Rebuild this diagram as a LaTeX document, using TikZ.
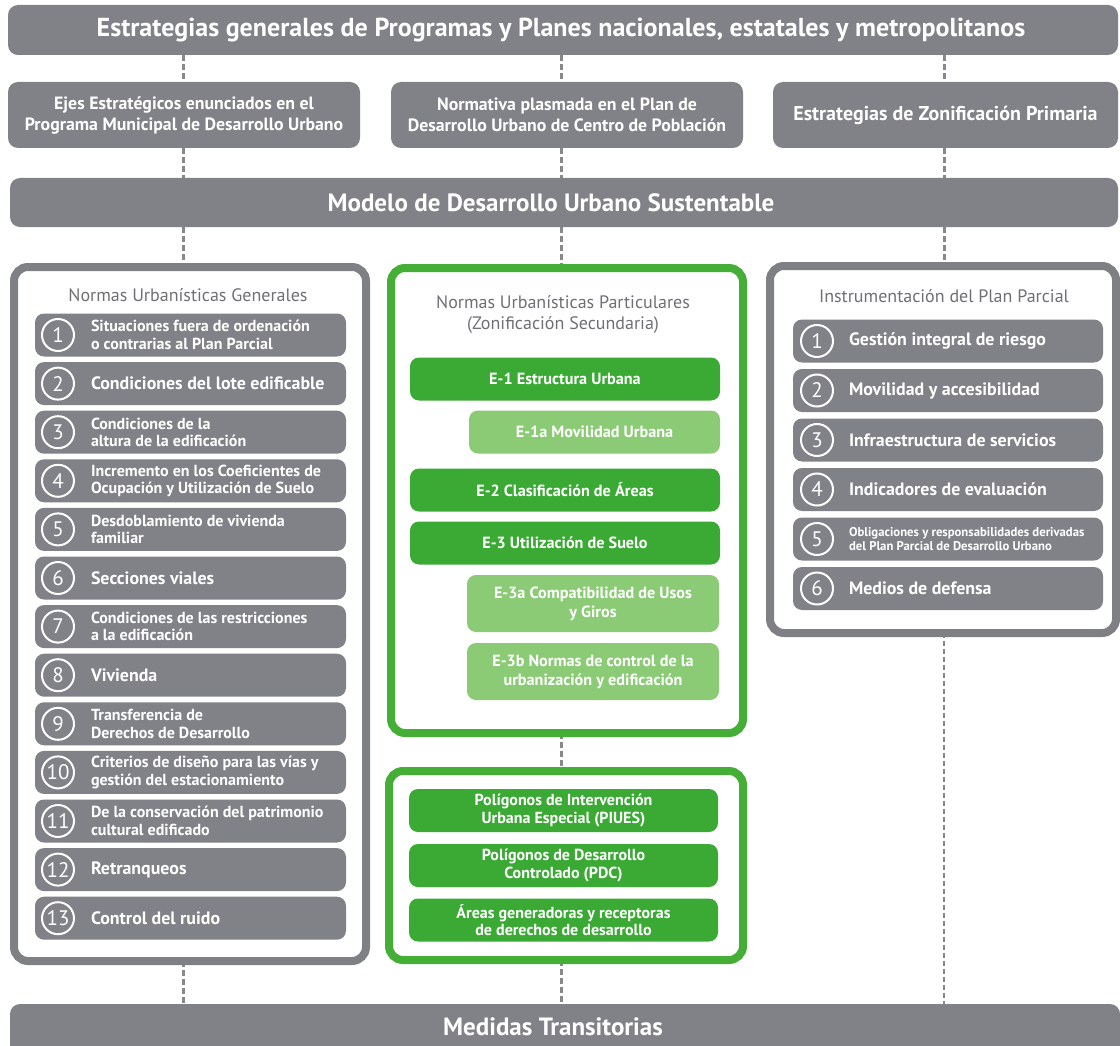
\documentclass[tikz,border=0pt]{standalone}
\usepackage{fontspec}
\setmainfont{PT Sans}
\usetikzlibrary{backgrounds}
\definecolor{gbox}{HTML}{808287}
\definecolor{gframe}{HTML}{7E8084}
\definecolor{gtitle}{HTML}{6E7074}
\definecolor{dgreen}{HTML}{3BAA35}
\definecolor{lgreen}{HTML}{8CCB76}
\definecolor{fgreen}{HTML}{44AE37}
\definecolor{gconn}{HTML}{86888C}
\newcommand{\fs}[2]{\fontsize{#1}{#2}\selectfont}
\tikzset{
  every node/.style={outer sep=0pt, inner sep=0pt},
  bar/.style={fill=gbox, rounded corners=10pt, text=white},
  bartxt/.style={text=white, font=\bfseries\fs{25}{29}},
  rowbox/.style={fill=gbox, rounded corners=10pt, text=white, align=center, minimum width=352pt, minimum height=66pt, font=\bfseries\fs{17.8}{21}},
  frameg/.style={draw=gframe, line width=8pt, fill=white, rounded corners=14pt},
  framegr/.style={draw=fgreen, line width=8pt, fill=white, rounded corners=14pt},
  ftitle/.style={text=gtitle, align=center, font=\fs{18}{21}},
  item/.style={fill=gbox, rounded corners=9pt, minimum height=43pt},
  itxt/.style={text=white, anchor=west, align=left, font=\bfseries\fs{16}{17.5}},
  itxtbig/.style={text=white, anchor=west, align=left, font=\bfseries\fs{17.9}{20}},
  num/.style={circle, draw=white, line width=2pt, minimum size=32pt, text=white, font=\fs{21}{21}},
  dbox/.style={fill=dgreen, rounded corners=9pt, text=white, align=center, font=\bfseries\fs{16.2}{19}},
  lbox/.style={fill=lgreen, rounded corners=9pt, text=white, align=center, font=\bfseries\fs{16.2}{19}},
  conn/.style={draw=gconn, line width=3pt, dash pattern=on 6pt off 3pt},
  connlong/.style={draw=gconn, line width=2.6pt, dash pattern=on 5pt off 3pt}
}
\begin{document}
\begin{tikzpicture}[x=1pt,y=-1pt]
\useasboundingbox (0,0) rectangle (1120,1046);
\coordinate (c1) at (183,0);
\coordinate (c2) at (561,0);
\coordinate (c3) at (944,0);
\coordinate (medtop) at (0,1004);
% top bar
\node[bar, minimum width=1110pt, minimum height=50pt] (top) at (563,30) {};
\node[bartxt, font=\bfseries\fs{26}{30}] (toptxt) at (561,30) {Estrategias generales de Programas y Planes nacionales, estatales y metropolitanos};
% second row
\node[rowbox] (ejes) at (184,115) {Ejes Estratégicos enunciados en el\\Programa Municipal de Desarrollo Urbano};
\node[rowbox] (norm) at (567,115) {Normativa plasmada en el Plan de\\Desarrollo Urbano de Centro de Población};
\node[rowbox, minimum width=345pt, font=\bfseries\fs{20}{23}] (zon) at (945.5,115) {Estrategias de Zonificación Primaria};
% modelo
\node[bar, minimum width=1108pt, minimum height=49pt] (mod) at (564,202.5) {};
\node[bartxt] (modtxt) at (551,202.5) {Modelo de Desarrollo Urbano Sustentable};
% frames
\node[frameg, minimum width=352pt, minimum height=694pt] (lf) at (190,614) {};
\node[framegr, minimum width=352pt, minimum height=465pt] (mf) at (567,500.5) {};
\node[framegr, minimum width=354pt, minimum height=189pt] (gf) at (566,865.5) {};
\node[frameg, minimum width=346pt, minimum height=367pt] (rf) at (943,449.5) {};
% medidas
\path[fill=gbox, rounded corners=10pt] (10,1046) -- (10,1004) -- (1120,1004) [sharp corners] -- (1120,1046) -- cycle;
\node[bartxt] (med) at (553,1027) {Medidas Transitorias};
% titles
\node[ftitle] (lft) at (188,295) {Normas Urbanísticas Generales};
\node[ftitle] (mft) at (563,314) {Normas Urbanísticas Particulares\\(Zonificación Secundaria)};
\node[ftitle] (rft) at (944,296) {Instrumentación del Plan Parcial};
% left items
\foreach \i/\t/\s in {
 1/{Situaciones fuera de ordenación\\o contrarias al Plan Parcial}/itxt,
 2/{Condiciones del lote edificable}/itxtbig,
 3/{Condiciones de la\\altura de la edificación}/itxt,
 4/{Incremento en los Coeficientes de\\Ocupación y Utilización de Suelo}/itxt,
 5/{Desdoblamiento de vivienda\\familiar}/itxt,
 6/{Secciones viales}/itxtbig,
 7/{Condiciones de las restricciones\\a la edificación}/itxt,
 8/{Vivienda}/itxtbig,
 9/{Transferencia de\\Derechos de Desarrollo}/itxt,
 10/{Criterios de diseño para las vías y\\gestión del estacionamiento}/itxt,
 11/{De la conservación del patrimonio\\cultural edificado}/itxt,
 12/{Retranqueos}/itxtbig,
 13/{Control del ruido}/itxtbig}{
  \node[item, minimum width=311pt] (L\i) at (190.5,{335+(\i-1)*48.6}) {};
  \node[num] (Ln\i) at (58,{335+(\i-1)*48.6}) {\i};
  \node[\s] (Lt\i) at (91,{335+(\i-1)*48.6}) {\t};
}
% right items
\foreach \i/\t/\s in {
 1/{Gestión integral de riesgo}/itxtbig,
 2/{Movilidad y accesibilidad}/itxtbig,
 3/{Infraestructura de servicios}/itxtbig,
 4/{Indicadores de evaluación}/itxtbig,
 6/{Medios de defensa}/itxtbig}{
  \node[item, minimum width=310pt] (R\i) at (948,{341+(\i-1)*49.5}) {};
  \node[num] (Rn\i) at (817,{341+(\i-1)*49.5}) {\i};
  \node[\s] (Rt\i) at (849,{341+(\i-1)*49.5}) {\t};
}
\node[item, minimum width=310pt] (R5) at (948,539) {};
\node[num] (Rn5) at (817,539) {5};
\node[itxt, font=\bfseries\fs{12.7}{14}] (Rt5) at (849,539) {Obligaciones y responsabilidades derivadas\\del Plan Parcial de Desarrollo Urbano};
% middle items
\node[dbox, minimum width=310pt, minimum height=43pt] (e1) at (565,379) {E-1 Estructura Urbana};
\node[lbox, minimum width=251pt, minimum height=43pt] (e1a) at (594.5,432) {E-1a Movilidad Urbana};
\node[dbox, minimum width=310pt, minimum height=43pt] (e2) at (565,490) {E-2 Clasificación de Áreas};
\node[dbox, minimum width=310pt, minimum height=43pt] (e3) at (565,543) {E-3 Utilización de Suelo};
\node[lbox, minimum width=252pt, minimum height=57pt] (e3a) at (593,603.5) {E-3a Compatibilidad de Usos\\y Giros};
\node[lbox, minimum width=252pt, minimum height=57pt] (e3b) at (593,671.5) {E-3b Normas de control de la\\urbanización y edificación};
% lower green items
\node[dbox, minimum width=309pt, minimum height=43pt, font=\bfseries\fs{16}{17.5}] (piu) at (563.5,810.5) {Polígonos de Intervención\\Urbana Especial (PIUES)};
\node[dbox, minimum width=309pt, minimum height=43pt, font=\bfseries\fs{16}{17.5}] (pdc) at (563.5,865.5) {Polígonos de Desarrollo\\Controlado (PDC)};
\node[dbox, minimum width=309pt, minimum height=43pt, font=\bfseries\fs{16}{17.5}] (are) at (563.5,920) {Áreas generadoras y receptoras\\de derechos de desarrollo};
% connectors
\begin{scope}[on background layer]
\fill[white] (0,0) rectangle (1120,1046);
\draw[conn] (top.south -| c1) -- (ejes.north -| c1);
\draw[conn] (top.south -| c2) -- (norm.north -| c2);
\draw[conn] (top.south -| c3) -- (zon.north -| c3);
\draw[conn] (ejes.south -| c1) -- (mod.north -| c1);
\draw[conn] (norm.south -| c2) -- (mod.north -| c2);
\draw[conn] (zon.south -| c3) -- (mod.north -| c3);
\draw[conn] (mod.south -| c1) -- (lf.north -| c1);
\draw[conn] (mod.south -| c2) -- (mf.north -| c2);
\draw[conn] (mod.south -| c3) -- (rf.north -| c3);
\draw[conn] (mf.south -| c2) -- (gf.north -| c2);
\draw[conn] (lf.south -| c1) -- (medtop -| c1);
\draw[conn] (gf.south -| c2) -- (medtop -| c2);
\draw[connlong] (rf.south -| c3) -- (medtop -| c3);
\end{scope}
\end{tikzpicture}
\end{document}
